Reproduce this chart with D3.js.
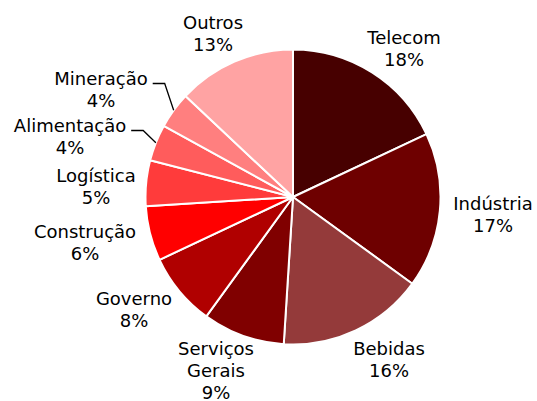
<!DOCTYPE html>
<html>
<head>
<meta charset="utf-8">
<script src="https://cdn.jsdelivr.net/npm/d3@7"></script>
<style>
  html, body { margin: 0; padding: 0; background: #fff; }
  svg { display: block; }
  text { font-family: "DejaVu Sans", Verdana, sans-serif; font-size: 18px; fill: #000; }
</style>
</head>
<body>
<svg id="chart" width="537" height="401"></svg>
<script>
// Sector shares (%), clockwise from 12 o'clock
const sectors = ["Telecom", "Indústria", "Bebidas", "Serviços Gerais", "Governo",
                 "Construção", "Logística", "Alimentação", "Mineração", "Outros"];
const shares  = [18, 17, 16, 9, 8, 6, 5, 4, 4, 13];
const colors  = ["#470000", "#6e0000", "#943a3a", "#800000", "#b00000",
                 "#ff0000", "#ff3b3b", "#ff5c5c", "#ff7f7f", "#ffa3a3"];
// Label lines per sector (name may wrap)
const labelLines = [["Telecom"], ["Indústria"], ["Bebidas"], ["Serviços", "Gerais"], ["Governo"],
                    ["Construção"], ["Logística"], ["Alimentação"], ["Mineração"], ["Outros"]];
// Label layout: centre x and first baseline, relative to the pie centre; leader flag
const labelLayout = [
  {dx: 111, dy: -153, leader: false},
  {dx: 200, dy: 13, leader: false},
  {dx: 96, dy: 158, leader: false},
  {dx: -77, dy: 158, leader: false},
  {dx: -159, dy: 108, leader: false},
  {dx: -208, dy: 41, leader: false},
  {dx: -197, dy: -15, leader: false},
  {dx: -223, dy: -65, leader: true},
  {dx: -192, dy: -112, leader: true},
  {dx: -80, dy: -168, leader: false}
];

const cx = 293, cy = 197, radius = 147.5, lineH = 22;

const svg = d3.select("#chart");
const g = svg.append("g").attr("transform", `translate(${cx},${cy})`);

const data = sectors.map((s, i) => ({name: s, value: shares[i], color: colors[i], lines: labelLines[i], layout: labelLayout[i]}));

const pie = d3.pie().value(d => d.value).sort(null);
const arc = d3.arc().innerRadius(0).outerRadius(radius);
const arcs = pie(data);

g.selectAll("path.slice")
  .data(arcs)
  .join("path")
  .attr("class", "slice")
  .attr("d", arc)
  .attr("fill", d => d.data.color)
  .attr("stroke", "#fff")
  .attr("stroke-width", 2)
  .attr("stroke-linejoin", "round");

const labels = g.selectAll("g.label")
  .data(arcs)
  .join("g")
  .attr("class", "label")
  .attr("transform", d => `translate(${d.data.layout.dx},${d.data.layout.dy})`);

labels.each(function(d) {
  const sel = d3.select(this);
  const all = d.data.lines.concat([d.data.value + "%"]);
  all.forEach((t, i) => {
    sel.append("text")
      .attr("x", 0)
      .attr("y", i * lineH)
      .attr("text-anchor", "middle")
      .text(t);
  });
});

// Leader lines for the small slices whose labels sit away from the pie
labels.filter(d => d.data.layout.leader).each(function(d) {
  const first = d3.select(this).select("text").node();
  const w = first.getComputedTextLength();
  const x0 = d.data.layout.dx + w / 2 + 5;
  const y0 = d.data.layout.dy - 1.5;
  const mid = (d.startAngle + d.endAngle) / 2;
  const ex = radius * Math.sin(mid), ey = -radius * Math.cos(mid);
  g.append("polyline")
    .attr("points", [[x0, y0], [x0 + 12, y0], [ex, ey]].map(p => p.join(",")).join(" "))
    .attr("fill", "none")
    .attr("stroke", "#000")
    .attr("stroke-width", 1.3);
});
</script>
</body>
</html>
